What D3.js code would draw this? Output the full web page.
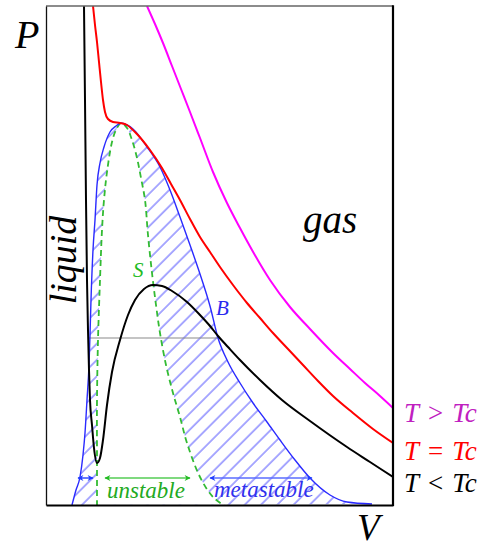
<!DOCTYPE html>
<html>
<head>
<meta charset="utf-8">
<script src="https://cdn.jsdelivr.net/npm/d3@7"></script>
<style>
  body { margin: 0; background: #fff; }
  svg { display: block; }
  text { font-family: "Liberation Serif", "Times New Roman", serif; font-style: italic; }
</style>
</head>
<body>
<div class="chart"></div>
<script>
// isotherms, [V, P] in arbitrary units
const isoBelow = [[3.8,49.9],[3.9,40.5],[4.0,30.5],[4.1,22.5],[4.2,17.5],[4.3,13.5],[4.4,10.5],[4.6,8.0],[4.8,5.7],[5.1,4.2],
  [5.4,4.7],[5.7,6.5],[6.1,10.0],[6.6,13.3],[7.4,16.5],[8.2,19.0],[8.9,20.5],[9.8,21.6],[10.7,22.0],[11.6,21.9],[12.6,21.4],
  [14.1,20.3],[15.4,19.0],[16.4,17.9],[17.2,16.9],[18.2,15.8],[19.4,14.5],[21.4,12.5],[23.6,10.5],[26.4,8.4],[30.1,5.8],
  [32.4,4.3],[34.7,2.8]];
const isoCritical = [[4.7,49.9],[4.9,48.0],[5.1,46.3],[5.3,44.3],[5.5,42.3],[5.7,40.5],[5.9,39.3],[6.2,38.6],[6.7,38.3],[7.4,38.2],
  [8.1,38.0],[8.9,37.3],[10.4,35.5],[11.6,33.7],[12.5,32.1],[13.4,30.5],[14.4,28.6],[15.4,26.8],[16.4,25.3],[17.4,23.8],
  [18.7,22.0],[20.1,20.2],[21.4,18.7],[22.7,17.2],[24.2,15.6],[25.7,14.0],[27.2,12.4],[28.7,10.9],[30.7,9.2],[32.7,7.6],[34.7,6.2]];
const isoAbove = [[10.1,49.9],[10.9,48.1],[11.7,46.2],[12.6,43.9],[13.5,41.6],[14.4,39.3],[15.4,36.7],[16.7,33.3],[18.1,30.2],
  [19.4,27.7],[20.6,25.5],[22.4,22.5],[24.4,19.8],[26.4,17.6],[28.7,15.2],[30.4,13.6],[31.9,12.2],[33.4,10.9],[34.7,9.7]];

// coexistence (binodal) and spinodal curves
const binodal = [[2.6,0.0],[3.0,1.5],[3.4,2.8],[3.7,5.0],[3.9,7.2],[4.1,10.5],[4.3,14.0],[4.4,17.0],[4.5,20.5],[4.7,25.5],
  [4.9,28.5],[5.1,32.0],[5.4,34.2],[5.8,35.8],[6.4,37.3],[7.0,37.9],[7.5,38.2],[8.1,38.0],[8.7,37.6],[10.1,35.8],[11.4,33.8],
  [12.4,31.5],[13.4,28.8],[14.4,26.0],[15.4,23.1],[16.4,19.9],[17.2,16.7],[18.2,14.3],[19.4,12.2],[20.7,10.2],[22.1,8.3],
  [23.4,6.5],[24.9,4.5],[26.4,2.7],[28.4,1.0],[30.1,0.3],[32.6,0.1]];
const spinodal = [[5.1,-0.1],[5.1,4.5],[5.1,10.5],[5.2,16.5],[5.4,22.5],[5.6,27.5],[5.8,30.5],[6.1,33.3],[6.6,36.3],[7.0,37.5],
  [7.5,38.2],[8.1,37.7],[8.6,36.5],[9.1,34.7],[9.5,32.7],[9.9,30.5],[10.2,27.0],[10.6,23.2],[11.0,20.0],[11.4,17.2],[12.0,14.0],
  [12.7,11.2],[13.4,8.8],[14.1,6.2],[15.4,2.8],[16.7,0.8],[17.9,-0.1]];

// Maxwell tie line and the range arrows
const tieLine = [[4.2,16.7],[17.2,16.7]];
const rangeNames = ["", "unstable", "metastable"];
const rangeSpans = [[3.2,4.7],[5.9,14.4],[16.4,26.6]];
const rangeLevel = 2.7;
const legendNames = ["T > Tc", "T = Tc", "T < Tc"];

const W = 481, H = 547;
const margin = { top: 6, left: 46, right: 88, bottom: 42 };

const svg = d3.select(".chart").append("svg").attr("width", W).attr("height", H);

const x = d3.scaleLinear().domain([0, 34.7]).range([margin.left, W - margin.right]);
const y = d3.scaleLinear().domain([0, 49.9]).range([H - margin.bottom, margin.top]);

const smooth = d3.line().x(d => x(d[0])).y(d => y(d[1])).curve(d3.curveMonotoneX);
const loose = d3.line().x(d => x(d[0])).y(d => y(d[1])).curve(d3.curveCatmullRom.alpha(0.5));

const defs = svg.append("defs");

defs.append("clipPath").attr("id", "plot")
  .append("rect")
  .attr("x", x(0)).attr("y", y(49.9))
  .attr("width", x(34.7) - x(0)).attr("height", y(0) - y(49.9));

// ring between binodal and spinodal, used to clip the hatching
defs.append("clipPath").attr("id", "ring")
  .append("path")
  .attr("clip-rule", "evenodd")
  .attr("d", smooth(binodal) + "Z" + loose(spinodal) + "Z");

const pat = defs.append("pattern")
  .attr("id", "hatch")
  .attr("patternUnits", "userSpaceOnUse")
  .attr("width", 11.5).attr("height", 11.5)
  .attr("patternTransform", "rotate(45)");
pat.append("line")
  .attr("x1", 1).attr("y1", 0).attr("x2", 1).attr("y2", 11.5)
  .attr("stroke", "#6262ff").attr("stroke-width", 1.1);

const markers = [["arrBlue", "#1f3cff"], ["arrGreen", "#22bb22"]];
markers.forEach(([id, c]) => {
  defs.append("marker")
    .attr("id", id).attr("viewBox", "0 -5 10 10")
    .attr("refX", 9).attr("refY", 0)
    .attr("markerWidth", 10).attr("markerHeight", 6)
    .attr("markerUnits", "userSpaceOnUse")
    .attr("orient", "auto-start-reverse")
    .append("path").attr("d", "M0,-5L10,0L0,5L3,0Z").attr("fill", c);
});

const graph = svg.append("g").attr("clip-path", "url(#plot)");

graph.append("g").attr("clip-path", "url(#ring)")
  .append("rect")
  .attr("x", x(0)).attr("y", y(49.9))
  .attr("width", x(34.7) - x(0)).attr("height", y(0) - y(49.9))
  .attr("fill", "url(#hatch)");

graph.append("path").attr("d", smooth(tieLine))
  .attr("fill", "none").attr("stroke", "#8a8a8a").attr("stroke-width", 1.2);

graph.append("path").attr("d", loose(spinodal))
  .attr("fill", "none").attr("stroke", "#33bb33").attr("stroke-width", 1.8)
  .attr("stroke-dasharray", "6 4");

graph.append("path").attr("d", smooth(binodal))
  .attr("fill", "none").attr("stroke", "#2a2aff").attr("stroke-width", 1.4);

const isotherms = [[isoAbove, "#ff00ff"], [isoCritical, "#ff0000"], [isoBelow, "#000000"]];
isotherms.forEach(([d, c]) => {
  graph.append("path").attr("d", smooth(d))
    .attr("fill", "none").attr("stroke", c).attr("stroke-width", 2);
});

// range arrows
const arrowStyle = [["#3f55ff", "arrBlue"], ["#55cc55", "arrGreen"], ["#5a6cff", "arrBlue"]];
rangeSpans.forEach((s, i) => {
  svg.append("line")
    .attr("x1", x(s[0])).attr("x2", x(s[1]))
    .attr("y1", y(rangeLevel)).attr("y2", y(rangeLevel))
    .attr("stroke", arrowStyle[i][0]).attr("stroke-width", 1.6)
    .attr("marker-start", `url(#${arrowStyle[i][1]})`)
    .attr("marker-end", `url(#${arrowStyle[i][1]})`);
});

svg.append("text").attr("x", 107).attr("y", 498).attr("font-size", 23)
  .attr("fill", "#22aa22").text(rangeNames[1]);
svg.append("text").attr("x", 214).attr("y", 497).attr("font-size", 23)
  .attr("fill", "#3030ee").text(rangeNames[2]);

// frame
const frame = svg.append("g");
frame.append("line").attr("x1", x(0)).attr("x2", x(34.7)).attr("y1", y(49.9)).attr("y2", y(49.9))
  .attr("stroke", "#666").attr("stroke-width", 1.5);
frame.append("g").attr("transform", `translate(${x(0)},0)`)
  .call(d3.axisLeft(y).ticks(0).tickSizeOuter(0))
  .select(".domain").attr("stroke", "#111").attr("stroke-width", 1.3);
frame.append("g").attr("transform", `translate(0,${y(0)})`)
  .call(d3.axisBottom(x).ticks(0).tickSizeOuter(0))
  .select(".domain").attr("stroke", "#000").attr("stroke-width", 2.2);
frame.append("line").attr("x1", x(34.7)).attr("x2", x(34.7)).attr("y1", y(49.9) - 0.7).attr("y2", y(0) + 1)
  .attr("stroke", "#000").attr("stroke-width", 2.2);

// labels
svg.append("text").attr("x", 15).attr("y", 48).attr("font-size", 40).text("P");
svg.append("text").attr("x", 357).attr("y", 540).attr("font-size", 37).text("V");
svg.append("text").attr("x", 303).attr("y", 233).attr("font-size", 39).text("gas");
svg.append("text").attr("transform", "translate(76,260) rotate(-90)")
  .attr("text-anchor", "middle").attr("font-size", 38).text("liquid");
svg.append("text").attr("x", 216).attr("y", 315).attr("font-size", 21).attr("fill", "#2a2aee").text("B");
svg.append("text").attr("x", 133).attr("y", 277).attr("font-size", 21).attr("fill", "#22bb22").text("S");

const legendColors = ["#c020c0", "#ff0000", "#000000"];
const legendBase = [422, 460, 492];
legendNames.forEach((t, i) => {
  svg.append("text").attr("x", 404).attr("y", legendBase[i]).attr("font-size", 27)
    .attr("word-spacing", 1).attr("fill", legendColors[i]).text(t);
});
</script>
</body>
</html>
